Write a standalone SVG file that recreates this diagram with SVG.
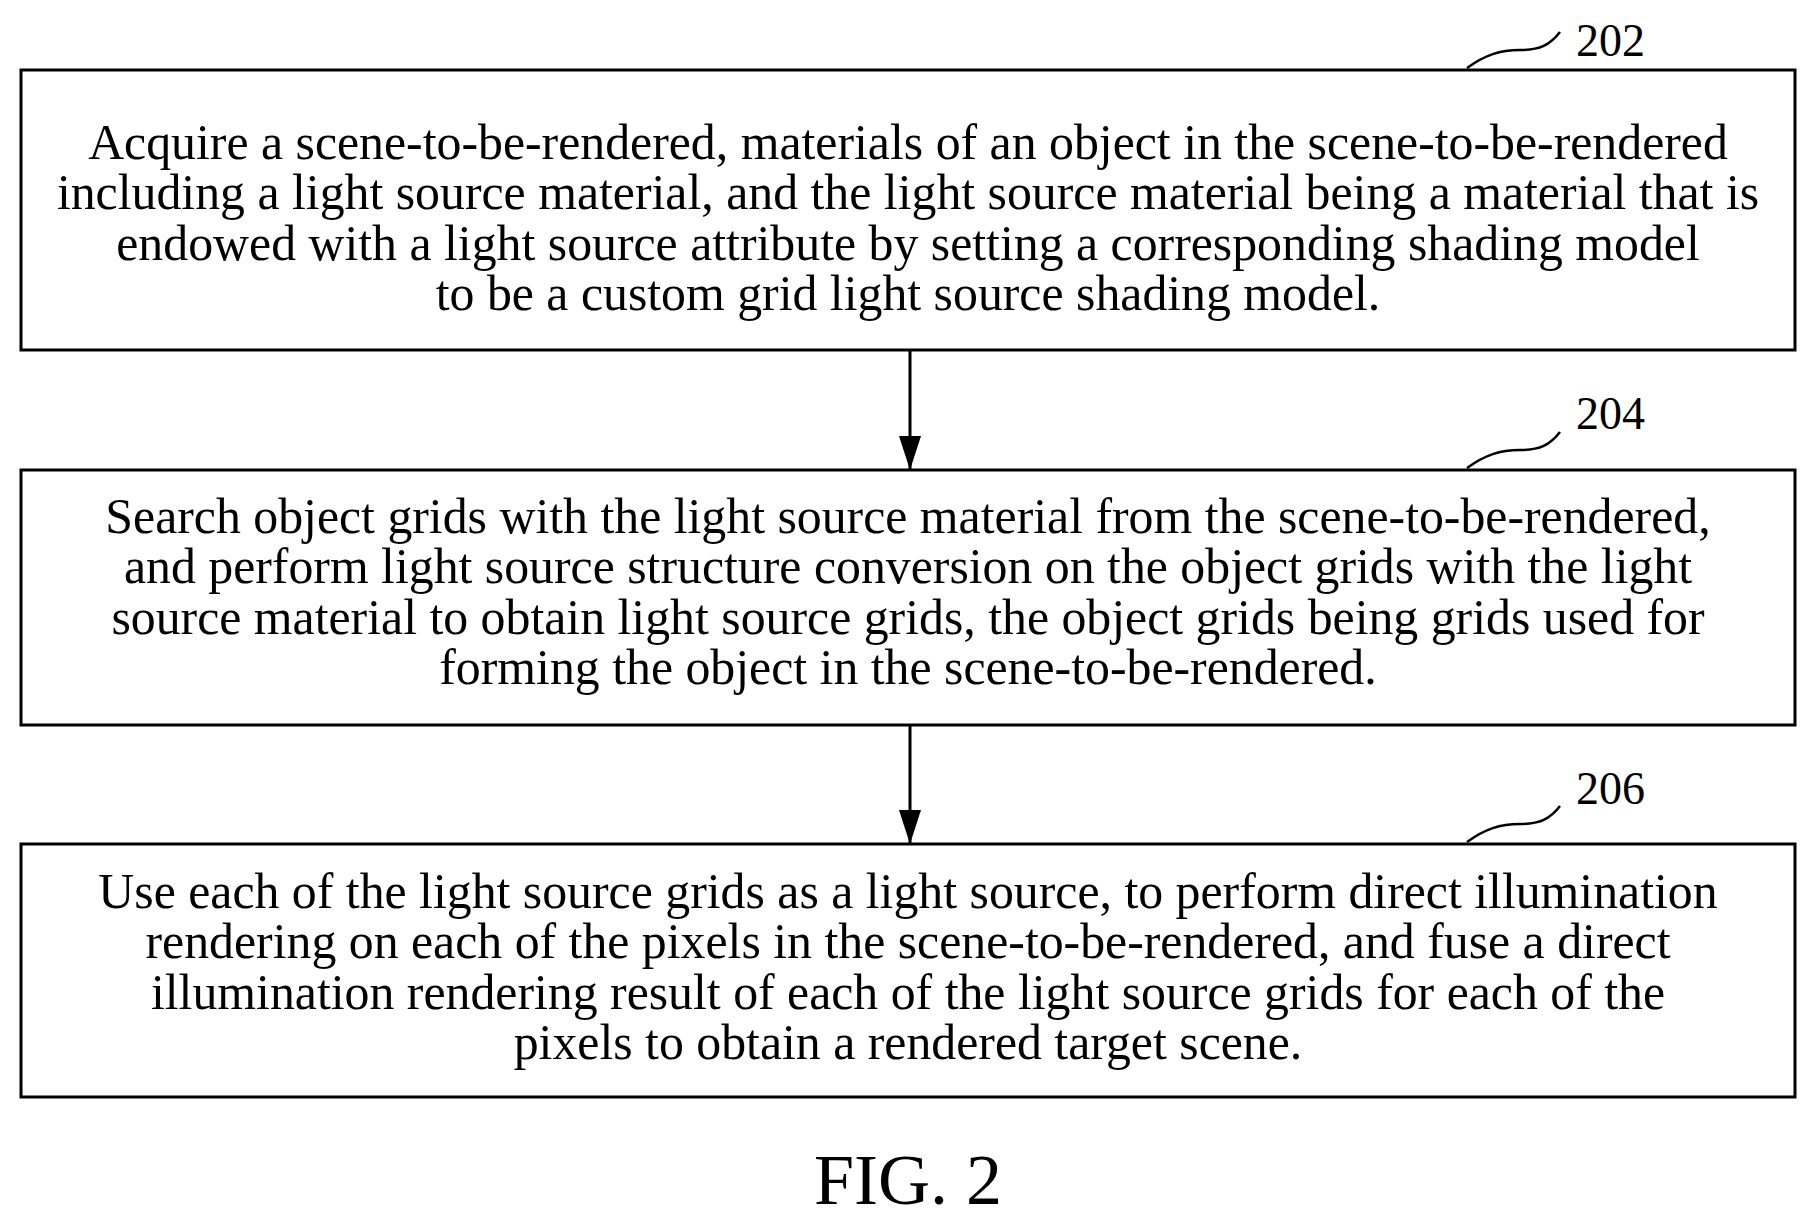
<svg xmlns="http://www.w3.org/2000/svg" width="1817" height="1222" viewBox="0 0 1817 1222">
<style>
.b{fill:#fff;stroke:#000;stroke-width:3}
.t{font-family:"Liberation Serif",serif;font-size:49.8px;text-anchor:middle;fill:#000}
.l{font-family:"Liberation Serif",serif;font-size:46px;fill:#000}
.c{fill:none;stroke:#000;stroke-width:2.5}
</style>
<defs>
<marker id="ah" markerWidth="34" markerHeight="22" refX="34" refY="11" orient="auto" markerUnits="userSpaceOnUse" viewBox="0 0 34 22"><path d="M0,0L34,11L0,22z"/></marker></defs>
<rect width="1817" height="1222" fill="#fff"/>
<g id="n202">
<rect class="b" x="21" y="70" width="1774" height="280"/>
<text class="t" x="908" y="159">Acquire a scene-to-be-rendered, materials of an object in the scene-to-be-rendered</text>
<text class="t" x="908" y="209">including a light source material, and the light source material being a material that is</text>
<text class="t" x="908" y="260">endowed with a light source attribute by setting a corresponding shading model</text>
<text class="t" x="908" y="310">to be a custom grid light source shading model.</text>
<path class="c" d="M1467,68 C1485,55 1500,50 1520,50 C1540,50 1550,45 1560,32"/>
<text class="l" x="1576" y="56">202</text>
</g>
<g id="n204">
<rect class="b" x="21" y="470" width="1774" height="255"/>
<text class="t" x="908" y="533">Search object grids with the light source material from the scene-to-be-rendered,</text>
<text class="t" x="908" y="583">and perform light source structure conversion on the object grids with the light</text>
<text class="t" x="908" y="634">source material to obtain light source grids, the object grids being grids used for</text>
<text class="t" x="908" y="684">forming the object in the scene-to-be-rendered.</text>
<path class="c" d="M1467,468 C1485,455 1500,450 1520,450 C1540,450 1550,445 1560,432"/>
<text class="l" x="1576" y="429">204</text>
</g>
<g id="n206">
<rect class="b" x="21" y="844" width="1774" height="253"/>
<text class="t" x="908" y="908">Use each of the light source grids as a light source, to perform direct illumination</text>
<text class="t" x="908" y="958">rendering on each of the pixels in the scene-to-be-rendered, and fuse a direct</text>
<text class="t" x="908" y="1009">illumination rendering result of each of the light source grids for each of the</text>
<text class="t" x="908" y="1059">pixels to obtain a rendered target scene.</text>
<path class="c" d="M1467,842 C1485,829 1500,824 1520,824 C1540,824 1550,819 1560,806"/>
<text class="l" x="1576" y="804">206</text>
</g>
<g id="connectors">
<line x1="910" y1="350" x2="910" y2="470" stroke="#000" stroke-width="3" marker-end="url(#ah)"/>
<line x1="910" y1="725" x2="910" y2="844" stroke="#000" stroke-width="3" marker-end="url(#ah)"/>
</g>
<text x="908" y="1204" style="font-family:'Liberation Serif',serif;font-size:72px;text-anchor:middle">FIG. 2</text>
</svg>
